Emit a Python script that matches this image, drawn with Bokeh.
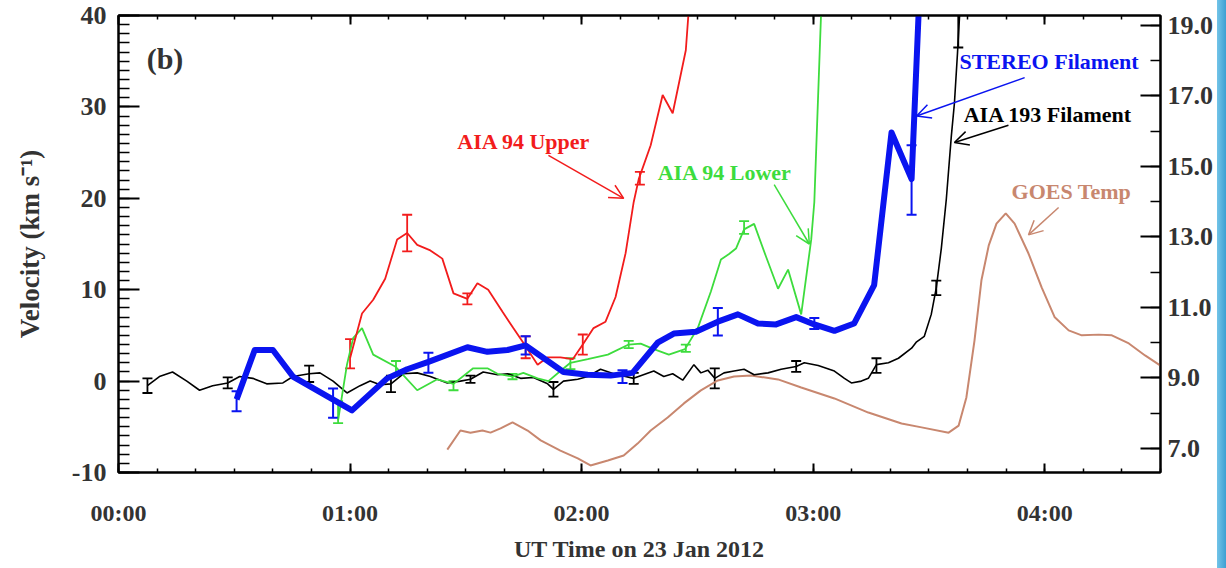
from bokeh.plotting import figure
from bokeh.models import (Range1d, LinearAxis, FixedTicker, Whisker, TeeHead, Arrow,
                          OpenHead, ColumnDataSource, Label, Div, PrintfTickFormatter)
from bokeh.layouts import row
from bokeh.embed import file_html
from bokeh.resources import INLINE

# ---------------- data (time in minutes after 00:00 UT, 23 Jan 2012) ----------------
x_ticks = [0, 60, 120, 180, 240]
x_tick_labels = ["00:00", "01:00", "02:00", "03:00", "04:00"]
v_ticks = [-10, 0, 10, 20, 30, 40]
v_tick_labels = ["-10", "0", "10", "20", "30", "40"]
temp_ticks = [7, 9, 11, 13, 15, 17, 19]

# AIA 193 Filament (black), km/s
aia193_t = [7.5, 10.6, 14.0, 17.7, 21.0, 24.4, 28.3, 31.4, 34.8, 38.4, 42.6, 45.2, 49.4, 52.2,
            55.6, 59.2, 62.6, 65.2, 67.8, 70.6, 73.8, 77.4, 80.8, 85.2, 88.6, 91.2, 94.5, 98.2,
            100.8, 104.2, 107.5, 111.2, 112.7, 115.3, 119.0, 121.6, 124.9, 128.3, 133.5, 138.7,
            141.3, 143.6, 146.2, 149.1, 150.9, 152.7, 154.5, 156.9, 159.5, 162.1, 164.7, 168.3,
            171.7, 175.6, 177.7, 181.3, 185.5, 188.1, 189.9, 192.5, 194.3, 196.4, 199.5, 202.1,
            205.5, 206.8, 208.8, 210.6, 211.9, 213.2, 214.5, 215.8, 216.6, 217.4, 218.2]
aia193_v = [-0.5, 0.5, 1.0, 0.0, -1.0, -0.5, -0.2, 0.5, 0.3, -0.3, -0.2, 0.5, 0.8, 0.9,
            0.0, -1.3, -0.5, 0.0, -0.4, -0.3, 0.8, 0.9, 0.5, -0.2, 0.0, 0.2, 1.0, 0.7,
            0.8, 0.3, 0.4, -0.3, -0.9, 0.0, 0.2, 0.5, 1.3, 0.8, 0.3, 1.1,
            0.5, 0.8, 0.1, 1.8, 0.9, 1.2, 0.3, 0.9, 1.1, 1.3, 0.7, 0.9,
            1.3, 1.6, 2.0, 1.7, 1.1, 0.3, -0.2, 0.0, 0.3, 1.8, 2.0, 2.5,
            3.6, 4.3, 4.9, 7.3, 10.2, 14.5, 19.9, 26.8, 30.4, 35.9, 42.0]
aia193_err_t = [7.5, 28.3, 49.4, 70.6, 91.2, 112.7, 133.5, 154.5, 175.6, 196.4, 211.9, 217.6]
aia193_err_v = [-0.5, -0.2, 0.8, -0.3, 0.2, -0.9, 0.3, 0.3, 1.6, 1.7, 10.2, 38.5]
aia193_err_e = [0.8, 0.6, 0.9, 0.9, 0.4, 0.8, 0.6, 1.1, 0.6, 0.8, 0.8, 2.0]

# STEREO Filament (blue, thick)
stereo_t = [30.6, 35.3, 40.0, 45.2, 60.5, 69.6, 74.8, 80.3, 90.4, 95.6, 100.8, 105.5, 115.3,
            121.6, 127.5, 133.2, 139.7, 143.9, 149.6, 155.3, 160.5, 165.7, 170.4, 175.6, 180.3,
            185.5, 190.6, 195.8, 200.3, 205.5, 206.2, 207.5]
stereo_v = [-2.0, 3.4, 3.4, 0.5, -3.2, 0.3, 1.3, 2.1, 3.7, 3.2, 3.4, 3.9, 1.0,
            0.7, 0.6, 0.9, 4.2, 5.2, 5.4, 6.5, 7.3, 6.3, 6.2, 7.0, 6.2,
            5.5, 6.3, 10.5, 27.2, 22.1, 29.0, 42.0]
stereo_err_t = [30.6, 55.6, 80.3, 105.5, 130.6, 155.3, 180.3, 205.5]
stereo_err_v = [-2.2, -2.4, 2.0, 3.9, 0.5, 6.5, 6.3, 22.0]
stereo_err_e = [1.1, 1.6, 1.1, 1.0, 0.7, 1.5, 0.6, 3.8]

# AIA 94 Upper (red)
upper_t = [60.0, 63.1, 66.0, 69.1, 72.2, 74.8, 77.4, 80.8, 83.9, 86.8, 90.4, 93.0, 95.8, 99.5,
           102.3, 105.5, 108.6, 111.2, 114.5, 117.7, 120.3, 123.1, 126.2, 128.8, 131.4, 133.5,
           134.8, 137.9, 141.0, 143.6, 147.0, 148.0]
upper_v = [2.5, 7.4, 8.9, 11.2, 15.5, 16.2, 14.9, 14.3, 13.4, 9.6, 9.0, 10.7, 10.0, 7.6,
           5.8, 3.8, 1.8, 2.6, 2.6, 2.4, 4.0, 5.8, 6.5, 9.2, 14.0, 19.6,
           22.1, 25.8, 31.3, 29.3, 36.2, 42.0]
upper_err_t = [60.0, 74.8, 90.4, 105.5, 120.3, 135.1]
upper_err_v = [3.0, 16.2, 9.0, 3.7, 4.0, 22.2]
upper_err_e = [1.6, 2.0, 0.6, 1.2, 1.1, 0.7]

# AIA 94 Lower (green)
lower_t = [56.9, 59.2, 60.8, 63.1, 66.0, 71.7, 77.4, 82.6, 86.8, 91.9, 95.6, 98.2, 102.1,
           104.9, 108.6, 111.4, 114.5, 117.1, 121.6, 126.8, 132.2, 135.3, 138.7, 142.6, 146.8,
           150.1, 153.5, 156.1, 158.2, 160.0, 162.1, 164.7, 167.8, 170.9, 173.5, 176.9, 179.5,
           180.3, 182.2]
lower_v = [-4.3, 1.8, 4.7, 5.8, 2.9, 1.6, -1.0, 0.2, -0.3, 1.4, 1.4, 0.8, 0.5,
           0.9, 0.3, 0.0, 1.1, 2.0, 2.4, 2.9, 4.0, 4.1, 3.5, 2.9, 3.5,
           5.8, 9.8, 13.3, 13.9, 14.5, 16.6, 17.2, 13.6, 10.1, 12.2, 7.3, 15.5,
           19.6, 42.0]
lower_err_t = [56.9, 71.9, 86.8, 102.1, 117.1, 132.2, 147.0, 162.1]
lower_err_v = [-3.4, 1.4, -0.5, 0.5, 1.9, 4.0, 3.6, 16.8]
lower_err_e = [1.2, 0.8, 0.5, 0.3, 0.6, 0.4, 0.4, 0.7]

# GOES temperature (MK, right axis)
goes_t = [85.2, 88.6, 91.2, 94.3, 96.4, 99.0, 102.1, 106.0, 109.4, 114.5, 119.0, 122.3, 126.8,
          130.9, 134.5, 137.9, 142.3, 146.5, 150.9, 155.3, 159.5, 163.9, 170.9, 176.9, 185.5,
          194.3, 202.9, 208.1, 215.1, 217.7, 219.7, 221.8, 223.6, 225.5, 227.5, 229.9, 232.2,
          235.8, 239.2, 242.6, 246.2, 249.6, 254.0, 257.4, 261.8, 266.0, 269.9]
goes_T = [6.97, 7.51, 7.45, 7.51, 7.45, 7.57, 7.74, 7.51, 7.23, 6.94, 6.72, 6.52, 6.66,
          6.80, 7.14, 7.51, 7.88, 8.28, 8.65, 8.93, 9.04, 9.07, 8.96, 8.73, 8.42,
          8.02, 7.71, 7.60, 7.45, 7.65, 8.45, 10.06, 11.77, 12.76, 13.38, 13.67, 13.38,
          12.53, 11.57, 10.72, 10.35, 10.21, 10.23, 10.21, 9.98, 9.64, 9.36]

# ---------------- styling ----------------
FONT = "Liberation Serif"
TXT = "#333333"
RED = "#f21c1c"
GREEN = "#3ddc3d"
BLUE = "#0a14f0"
BLACK = "#000000"
BROWN = "#c8876f"

p = figure(width=1217, height=568, x_range=Range1d(0, 270), y_range=Range1d(-10, 40),
           output_backend="svg", toolbar_location=None,
           min_border_left=118, min_border_right=57, min_border_top=15, min_border_bottom=96)
p.extra_y_ranges = {"temp": Range1d(6.32, 19.28)}
p.xgrid.visible = False
p.ygrid.visible = False
p.outline_line_color = "black"
p.outline_line_width = 2
p.background_fill_color = "white"
p.border_fill_color = "white"

xt = FixedTicker(ticks=x_ticks, minor_ticks=list(range(0, 271, 10)))

xa = p.xaxis[0]
xa.ticker = xt
xa.major_label_overrides = {t: l for t, l in zip(x_ticks, x_tick_labels)}
xa.axis_label = "UT Time on 23 Jan 2012"
xa.major_tick_in = 9
xa.major_tick_out = 0
xa.minor_tick_in = 4
xa.minor_tick_out = 0
xa.axis_line_width = 2
xa.major_tick_line_width = 2
xa.minor_tick_line_width = 1.5
xa.major_label_text_font = FONT
xa.major_label_text_font_style = "bold"
xa.major_label_text_font_size = "24px"
xa.major_label_text_color = TXT
xa.major_label_standoff = 27
xa.axis_label_text_font = FONT
xa.axis_label_text_font_style = "bold"
xa.axis_label_text_font_size = "24px"
xa.axis_label_text_color = TXT
xa.axis_label_standoff = 7

top = LinearAxis(ticker=xt, major_label_text_font_size="0px", major_label_standoff=0,
                 major_tick_in=9, major_tick_out=0, minor_tick_in=4, minor_tick_out=0,
                 axis_line_width=2, major_tick_line_width=2, minor_tick_line_width=1.5,
                 major_label_text_alpha=0)
p.add_layout(top, "above")

ya = p.yaxis[0]
ya.ticker = FixedTicker(ticks=v_ticks, minor_ticks=list(range(-10, 41)))
ya.major_label_overrides = {t: l for t, l in zip(v_ticks, v_tick_labels)}
ya.axis_label = "Velocity (km s\u207b\u00b9)"
ya.major_tick_in = 21
ya.major_tick_out = 0
ya.minor_tick_in = 11
ya.minor_tick_out = 0
ya.axis_line_width = 2
ya.major_tick_line_width = 2
ya.minor_tick_line_width = 1.5
ya.major_label_text_font = FONT
ya.major_label_text_font_style = "bold"
ya.major_label_text_font_size = "26px"
ya.major_label_text_color = TXT
ya.major_label_standoff = 12
ya.axis_label_text_font = FONT
ya.axis_label_text_font_style = "bold"
ya.axis_label_text_font_size = "27px"
ya.axis_label_text_color = TXT
ya.axis_label_standoff = 24

ra = LinearAxis(y_range_name="temp",
                ticker=FixedTicker(ticks=temp_ticks, minor_ticks=list(range(6, 20))),
                formatter=PrintfTickFormatter(format="%.1f"),
                major_tick_in=20, major_tick_out=0, minor_tick_in=10, minor_tick_out=0,
                axis_line_width=2, major_tick_line_width=2, minor_tick_line_width=1.5,
                major_label_text_font=FONT, major_label_text_font_style="bold",
                major_label_text_font_size="26px", major_label_text_color=TXT,
                major_label_standoff=7)
p.add_layout(ra, "right")

# ---------------- curves ----------------
p.line(goes_t, goes_T, y_range_name="temp", line_color=BROWN, line_width=2)
p.line(aia193_t, aia193_v, line_color=BLACK, line_width=1.6)
p.line(lower_t, lower_v, line_color=GREEN, line_width=1.8)
p.line(upper_t, upper_v, line_color=RED, line_width=1.8)
p.line(stereo_t, stereo_v, line_color=BLUE, line_width=6, line_join="round")


def add_err(ts, vs, es, color, lw):
    src = ColumnDataSource(dict(base=ts,
                                lower=[v - e for v, e in zip(vs, es)],
                                upper=[v + e for v, e in zip(vs, es)]))
    w = Whisker(source=src, base="base", lower="lower", upper="upper", dimension="height",
                line_color=color, line_width=lw,
                upper_head=TeeHead(size=10, line_color=color, line_width=lw),
                lower_head=TeeHead(size=10, line_color=color, line_width=lw))
    p.add_layout(w)


add_err(aia193_err_t, aia193_err_v, aia193_err_e, BLACK, 1.8)
add_err(lower_err_t, lower_err_v, lower_err_e, GREEN, 1.8)
add_err(upper_err_t, upper_err_v, upper_err_e, RED, 1.8)
add_err(stereo_err_t, stereo_err_v, stereo_err_e, BLUE, 2)

# ---------------- annotations ----------------
def lab(x, y, text, color, size="22px"):
    p.add_layout(Label(x=x, y=y, text=text, text_font=FONT, text_font_style="bold",
                       text_font_size=size, text_color=color, text_align="left",
                       text_baseline="middle"))


def arr(x0, y0, x1, y1, color):
    p.add_layout(Arrow(end=OpenHead(size=14, line_color=color, line_width=1.5),
                       x_start=x0, y_start=y0, x_end=x1, y_end=y1,
                       line_color=color, line_width=1.5))


lab(7.3, 35.3, "(b)", TXT, "30px")
lab(87.8, 26.2, "AIA 94 Upper", RED)
arr(111.4, 24.7, 130.9, 20.0, RED)
lab(139.7, 22.8, "AIA 94 Lower", GREEN)
arr(169.9, 21.5, 179.0, 15.0, GREEN)
lab(217.9, 35.0, "STEREO Filament", BLUE)
arr(234.8, 33.2, 206.8, 29.0, BLUE)
lab(219.0, 29.2, "AIA 193 Filament", BLACK)
arr(230.6, 28.0, 216.6, 26.1, BLACK)
lab(231.4, 20.7, "GOES Temp", BROWN)
arr(243.6, 19.0, 235.8, 16.0, BROWN)

stripe = Div(width=9, height=568, margin=0,
             styles={"background": "linear-gradient(to right, #72c4e8, #3d9fd2)",
                     "width": "9px", "height": "568px"})

layout = row(p, stripe, spacing=0)
open("out.html", "w").write(file_html(layout, INLINE))
